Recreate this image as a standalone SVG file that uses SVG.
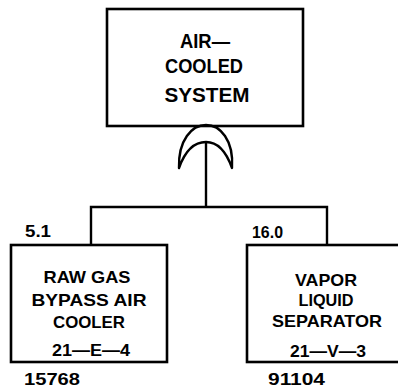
<svg xmlns="http://www.w3.org/2000/svg" width="398" height="391" viewBox="0 0 398 391">
<style>
.box{fill:#fff;stroke:#000;stroke-width:2.6}
.ln{fill:none;stroke:#000;stroke-width:2.4}
text{font-family:"Liberation Sans",Arial,sans-serif;font-weight:bold;font-size:16.5px;fill:#000}
.c{text-anchor:middle}
.big{font-size:20.5px}
</style>
<rect width="398" height="391" fill="#fff"/>
<g id="connectors">
<line class="ln" x1="206" y1="142" x2="206" y2="207"/>
<polyline class="ln" points="91,245 91,207 327,207 327,245"/>
</g>
<g id="top">
<rect class="box" x="107" y="9" width="196" height="117"/>
<text class="c big" x="205" y="48" textLength="50" lengthAdjust="spacingAndGlyphs">AIR—</text>
<text class="c big" x="204" y="73" textLength="78" lengthAdjust="spacingAndGlyphs">COOLED</text>
<text class="c big" x="207" y="102" textLength="85" lengthAdjust="spacingAndGlyphs">SYSTEM</text>
</g>
<g id="gate">
<path class="ln" d="M179,168 C178,140 192,125 206,125 C220,125 234,140 232,168 C226,151 218,142 206,142 C194,142 185,151 179,168 Z" stroke-linejoin="round"/>
</g>
<g id="left">
<rect class="box" x="11" y="245" width="156" height="117"/>
<text x="25" y="237" textLength="26" lengthAdjust="spacingAndGlyphs">5.1</text>
<text class="c" x="87" y="283" textLength="87" lengthAdjust="spacingAndGlyphs">RAW GAS</text>
<text class="c" x="89" y="306" textLength="115" lengthAdjust="spacingAndGlyphs">BYPASS AIR</text>
<text class="c" x="89" y="328" textLength="72" lengthAdjust="spacingAndGlyphs">COOLER</text>
<text class="c" x="91" y="356" textLength="78" lengthAdjust="spacingAndGlyphs">21—E—4</text>
<text x="24" y="385" textLength="56" lengthAdjust="spacingAndGlyphs">15768</text>
</g>
<g id="right">
<rect class="box" x="247" y="245" width="160" height="117"/>
<text x="252" y="238" textLength="31" lengthAdjust="spacingAndGlyphs">16.0</text>
<text class="c" x="326" y="286" textLength="62" lengthAdjust="spacingAndGlyphs">VAPOR</text>
<text class="c" x="326" y="306" textLength="55" lengthAdjust="spacingAndGlyphs">LIQUID</text>
<text class="c" x="327" y="327" textLength="110" lengthAdjust="spacingAndGlyphs">SEPARATOR</text>
<text class="c" x="328" y="357" textLength="76" lengthAdjust="spacingAndGlyphs">21—V—3</text>
<text x="268" y="385" textLength="57" lengthAdjust="spacingAndGlyphs">91104</text>
</g>
</svg>
